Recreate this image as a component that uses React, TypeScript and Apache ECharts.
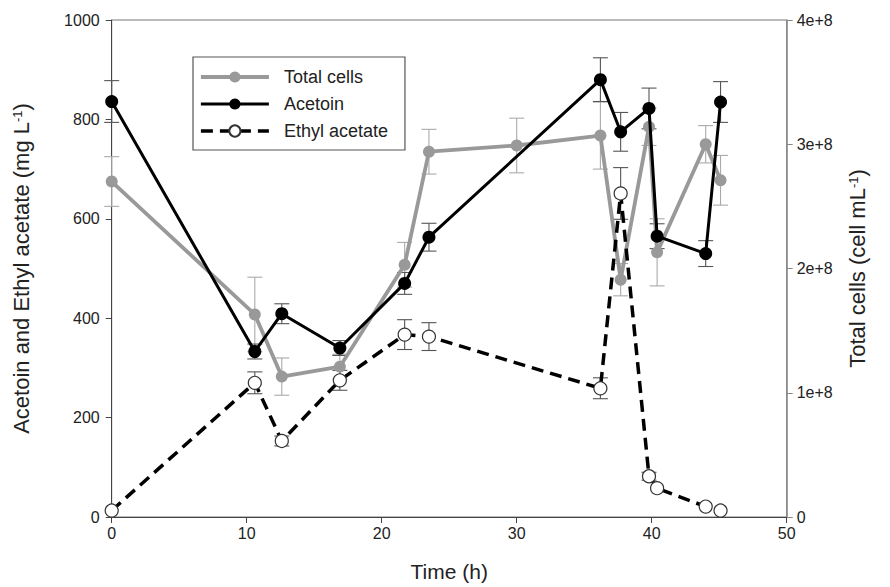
import React, { useEffect, useRef } from "react";
import * as echarts from "echarts";

// Sampling times (h)
const timeCells = [0, 10.6, 12.6, 16.9, 21.7, 23.5, 30.0, 36.2, 37.7, 39.8, 40.4, 44.0, 45.1];
const timeChem = [0, 10.6, 12.6, 16.9, 21.7, 23.5, 36.2, 37.7, 39.8, 40.4, 44.0, 45.1];

// Total cells (cell mL-1), right axis
const totalCells = [2.70e8, 1.63e8, 1.13e8, 1.21e8, 2.03e8, 2.94e8, 2.99e8, 3.07e8, 1.91e8, 3.14e8, 2.13e8, 3.0e8, 2.71e8];
const totalCellsErr = [2.0e7, 3.0e7, 1.5e7, 1.0e7, 1.8e7, 1.8e7, 2.2e7, 2.7e7, 1.3e7, 1.5e7, 2.7e7, 1.5e7, 2.0e7];

// Acetoin (mg L-1), left axis
const acetoin = [836, 333, 409, 340, 470, 563, 880, 775, 822, 565, 530, 835];
const acetoinErr = [42, 15, 20, 15, 22, 28, 44, 39, 41, 25, 26, 41];

// Ethyl acetate (mg L-1), left axis
const ethylAcetate = [13, 270, 153, 275, 367, 363, 259, 651, 82, 58, 21, 13];
const ethylAcetateErr = [0, 22, 10, 20, 30, 28, 21, 52, 8, 0, 0, 0];

const FONT = "'Liberation Sans', Arial, Helvetica, sans-serif";

function pairs(xs: number[], ys: number[]) {
  return xs.map((x, i) => [x, ys[i]]);
}
function errData(xs: number[], ys: number[], es: number[]) {
  const out: number[][] = [];
  xs.forEach((x, i) => {
    if (es[i] > 0) out.push([x, ys[i] - es[i], ys[i] + es[i]]);
  });
  return out;
}
function errSeries(name: string, data: number[][], color: string, yAxisIndex: number, z: number) {
  return {
    name,
    type: "custom",
    yAxisIndex,
    z,
    silent: true,
    encode: { x: 0, y: [1, 2] },
    data,
    renderItem: (params: any, api: any) => {
      const x = api.value(0);
      const lo = api.value(1);
      const hi = api.value(2);
      const p1 = api.coord([x, hi]);
      const p2 = api.coord([x, lo]);
      const w = 7.5;
      const style = { stroke: color, lineWidth: 1.1 };
      return {
        type: "group",
        children: [
          { type: "line", shape: { x1: p1[0], y1: p1[1], x2: p2[0], y2: p2[1] }, style },
          { type: "line", shape: { x1: p1[0] - w, y1: p1[1], x2: p1[0] + w, y2: p1[1] }, style },
          { type: "line", shape: { x1: p2[0] - w, y1: p2[1], x2: p2[0] + w, y2: p2[1] }, style },
        ],
      };
    },
  };
}

export default function App() {
  const ref = useRef<HTMLDivElement>(null);
  useEffect(() => {
    if (!ref.current) return;
    const chart = echarts.init(ref.current, undefined, { renderer: "svg" });
    const nameStyle = (size: number) => ({
      fontSize: size,
      color: "#222",
      fontFamily: FONT,
      rich: { sup: { fontSize: 13, verticalAlign: "top", color: "#222", fontFamily: FONT } },
    });
    const option: any = {
      animation: false,
      backgroundColor: "#fff",
      textStyle: { fontFamily: FONT },
      grid: {
        left: 111.7,
        right: 103.3,
        top: 20,
        bottom: 67,
        show: true,
        borderColor: "#777",
        borderWidth: 1,
      },
      legend: {
        data: ["Total cells", "Acetoin", "Ethyl acetate"],
        orient: "vertical",
        left: 193,
        top: 57,
        itemWidth: 68,
        itemHeight: 14,
        itemGap: 9,
        padding: [11, 17, 10, 6],
        borderColor: "#555",
        borderWidth: 1.2,
        lineStyle: { width: "inherit" },
        textStyle: { fontSize: 18, color: "#222", fontFamily: FONT, padding: [0, 0, 0, 10] },
      },
      xAxis: {
        type: "value",
        min: 0,
        max: 50,
        interval: 10,
        name: "Time (h)",
        nameLocation: "middle",
        nameGap: 44,
        nameTextStyle: nameStyle(21),
        axisLine: { show: true, lineStyle: { color: "#444", width: 1 } },
        axisTick: { show: true, inside: false, length: 6, lineStyle: { color: "#444" } },
        axisLabel: { fontSize: 16, color: "#222", margin: 8, fontFamily: FONT },
        splitLine: { show: false },
      },
      yAxis: [
        {
          type: "value",
          min: 0,
          max: 1000,
          interval: 200,
          position: "left",
          name: "Acetoin and Ethyl acetate (mg L{sup|-1})",
          nameLocation: "middle",
          nameRotate: 90,
          nameGap: 79,
          nameTextStyle: nameStyle(22),
          axisLine: { show: true, lineStyle: { color: "#444", width: 1 } },
          axisTick: { show: true, length: 6, lineStyle: { color: "#444" } },
          axisLabel: {
            fontSize: 16,
            color: "#222",
            margin: 12,
            fontFamily: FONT,
            formatter: (v: number) => String(v),
          },
          splitLine: { show: false },
        },
        {
          type: "value",
          min: 0,
          max: 4e8,
          interval: 1e8,
          position: "right",
          name: "Total cells (cell mL{sup|-1})",
          nameLocation: "middle",
          nameRotate: 90,
          nameGap: 60,
          nameTextStyle: nameStyle(22),
          axisLine: { show: true, lineStyle: { color: "#888", width: 1.5 } },
          axisTick: { show: true, length: 6, lineStyle: { color: "#888" } },
          axisLabel: {
            fontSize: 16,
            color: "#222",
            margin: 10,
            fontFamily: FONT,
            formatter: (v: number) => (v === 0 ? "0" : `${Math.round(v / 1e8)}e+8`),
          },
          splitLine: { show: false },
        },
      ],
      series: [
        errSeries("cellsErr", errData(timeCells, totalCells, totalCellsErr), "#aaa", 1, 1),
        errSeries("acetoinErr", errData(timeChem, acetoin, acetoinErr), "#555", 0, 1),
        errSeries("ethylErr", errData(timeChem, ethylAcetate, ethylAcetateErr), "#555", 0, 1),
        {
          name: "Total cells",
          type: "line",
          yAxisIndex: 1,
          z: 2,
          data: pairs(timeCells, totalCells),
          symbol: "circle",
          symbolSize: 12,
          lineStyle: { color: "#999", width: 3.8 },
          itemStyle: { color: "#999" },
        },
        {
          name: "Acetoin",
          type: "line",
          yAxisIndex: 0,
          z: 3,
          data: pairs(timeChem, acetoin),
          symbol: "circle",
          symbolSize: 13,
          lineStyle: { color: "#000", width: 3 },
          itemStyle: { color: "#000" },
        },
        {
          name: "Ethyl acetate",
          type: "line",
          yAxisIndex: 0,
          z: 4,
          data: pairs(timeChem, ethylAcetate),
          symbol: "circle",
          symbolSize: 13,
          lineStyle: { color: "#000", width: 3.5, type: [12, 7] },
          itemStyle: { color: "#fff", borderColor: "#333", borderWidth: 1.2 },
        },
      ],
    };
    chart.setOption(option);
    return () => chart.dispose();
  }, []);
  return (
    <div
      ref={ref}
      style={{ position: "fixed", left: 0, top: 0, width: 890, height: 587, background: "#fff" }}
    />
  );
}
